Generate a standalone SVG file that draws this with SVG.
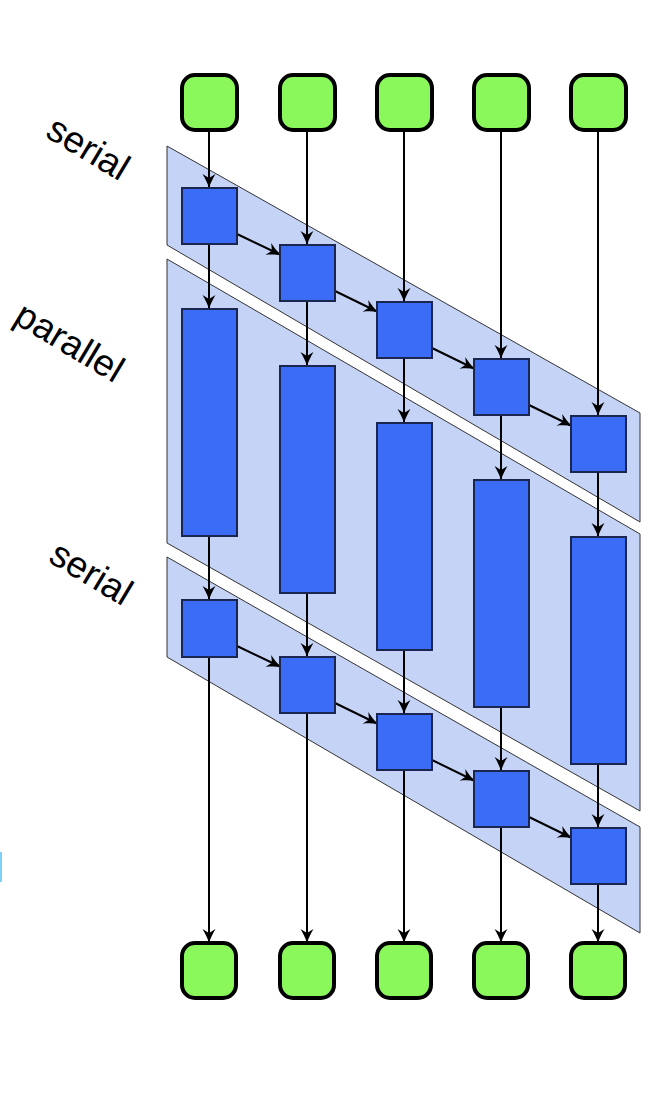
<svg xmlns="http://www.w3.org/2000/svg" width="668" height="1114" viewBox="0 0 668 1114">
<defs>
<marker id="ah" markerUnits="userSpaceOnUse" viewBox="-15 -7 16 14" refX="0" refY="0" markerWidth="16" markerHeight="14" orient="auto">
<path d="M0,0 C-5,-1.5 -10,-4 -14,-6.5 L-10,0 L-14,6.5 C-10,4 -5,1.5 0,0 Z" fill="#000"/>
</marker>
</defs>
<style>
.band{fill:#c5d3f7;stroke:#333;stroke-width:1}
.blue{fill:#3a6cf5;stroke:#1b2650;stroke-width:2}
.green{fill:#8af75a;stroke:#000;stroke-width:4}
.conn line{stroke:#000;stroke-width:2;marker-end:url(#ah)}
.lbl{font-family:"Liberation Sans",Arial,sans-serif;font-size:37px;fill:#000}
</style>
<rect width="668" height="1114" fill="#fff"/>
<g id="bands">
<polygon id="band-serial-top" class="band" points="167,146 640,413 640,522 167,245"/>
<polygon id="band-parallel" class="band" points="167,259 640,534 640,811 167,543"/>
<polygon id="band-serial-bottom" class="band" points="167,557 640,827 640,933 167,657"/>
</g>
<g id="labels">
<text class="lbl" transform="translate(44,136) rotate(31)">serial</text>
<text class="lbl" transform="translate(12,322) rotate(31)">parallel</text>
<text class="lbl" transform="translate(47,561) rotate(31)">serial</text>
</g>
<rect x="0" y="852" width="2" height="30" fill="#7cd0fa"/>
<g class="conn" id="connectors">
<line x1="209" y1="130" x2="209" y2="188"/>
<line x1="307" y1="130" x2="307" y2="245"/>
<line x1="404" y1="130" x2="404" y2="302"/>
<line x1="501" y1="130" x2="501" y2="359"/>
<line x1="598" y1="130" x2="598" y2="416"/>
<line x1="209" y1="244" x2="209" y2="309"/>
<line x1="307" y1="301" x2="307" y2="366"/>
<line x1="404" y1="358" x2="404" y2="423"/>
<line x1="501" y1="415" x2="501" y2="480"/>
<line x1="598" y1="472" x2="598" y2="537"/>
<line x1="209" y1="536" x2="209" y2="600"/>
<line x1="307" y1="593" x2="307" y2="657"/>
<line x1="404" y1="650" x2="404" y2="714"/>
<line x1="501" y1="707" x2="501" y2="771"/>
<line x1="598" y1="764" x2="598" y2="828"/>
<line x1="209" y1="657" x2="209" y2="943"/>
<line x1="307" y1="713" x2="307" y2="943"/>
<line x1="404" y1="770" x2="404" y2="943"/>
<line x1="501" y1="827" x2="501" y2="943"/>
<line x1="598" y1="884" x2="598" y2="943"/>
<line x1="237" y1="234" x2="281" y2="255"/>
<line x1="335" y1="291" x2="378" y2="312"/>
<line x1="432" y1="348" x2="475" y2="369"/>
<line x1="529" y1="405" x2="572" y2="426"/>
<line x1="237" y1="646" x2="281" y2="667"/>
<line x1="335" y1="703" x2="378" y2="724"/>
<line x1="432" y1="760" x2="475" y2="781"/>
<line x1="529" y1="817" x2="572" y2="838"/>
</g>
<g id="in1"><rect class="green" x="182" y="75" width="55" height="55" rx="13"/></g>
<g id="in2"><rect class="green" x="280" y="75" width="55" height="55" rx="13"/></g>
<g id="in3"><rect class="green" x="377" y="75" width="55" height="55" rx="13"/></g>
<g id="in4"><rect class="green" x="474" y="75" width="55" height="55" rx="13"/></g>
<g id="in5"><rect class="green" x="571" y="75" width="55" height="55" rx="13"/></g>
<g id="s1a"><rect class="blue" x="182" y="188" width="55" height="56"/></g>
<g id="s1b"><rect class="blue" x="280" y="245" width="55" height="56"/></g>
<g id="s1c"><rect class="blue" x="377" y="302" width="55" height="56"/></g>
<g id="s1d"><rect class="blue" x="474" y="359" width="55" height="56"/></g>
<g id="s1e"><rect class="blue" x="571" y="416" width="55" height="56"/></g>
<g id="p1"><rect class="blue" x="182" y="309" width="55" height="227"/></g>
<g id="p2"><rect class="blue" x="280" y="366" width="55" height="227"/></g>
<g id="p3"><rect class="blue" x="377" y="423" width="55" height="227"/></g>
<g id="p4"><rect class="blue" x="474" y="480" width="55" height="227"/></g>
<g id="p5"><rect class="blue" x="571" y="537" width="55" height="227"/></g>
<g id="s2a"><rect class="blue" x="182" y="600" width="55" height="57"/></g>
<g id="s2b"><rect class="blue" x="280" y="657" width="55" height="56"/></g>
<g id="s2c"><rect class="blue" x="377" y="714" width="55" height="56"/></g>
<g id="s2d"><rect class="blue" x="474" y="771" width="55" height="56"/></g>
<g id="s2e"><rect class="blue" x="571" y="828" width="55" height="56"/></g>
<g id="out1"><rect class="green" x="182" y="943" width="54" height="55" rx="13"/></g>
<g id="out2"><rect class="green" x="280" y="943" width="54" height="55" rx="13"/></g>
<g id="out3"><rect class="green" x="377" y="943" width="54" height="55" rx="13"/></g>
<g id="out4"><rect class="green" x="474" y="943" width="54" height="55" rx="13"/></g>
<g id="out5"><rect class="green" x="571" y="943" width="54" height="55" rx="13"/></g>
</svg>
